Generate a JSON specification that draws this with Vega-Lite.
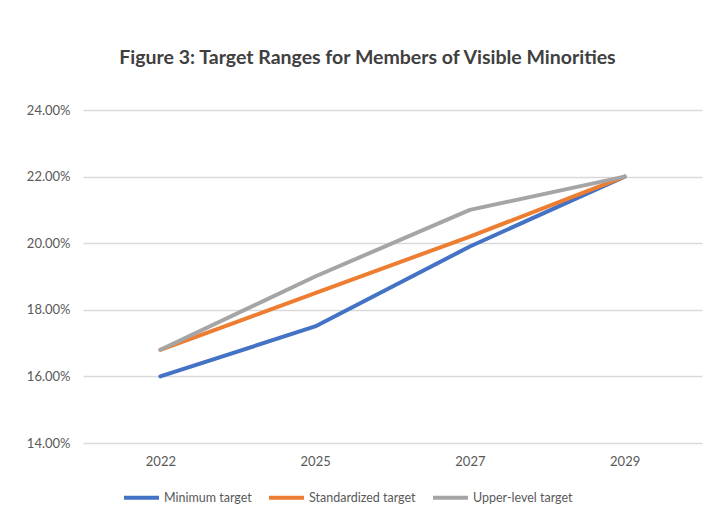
{
  "$schema": "https://vega.github.io/schema/vega-lite/v6.json",
  "autosize": "none",
  "width": 619,
  "height": 333,
  "padding": {"left": 83, "top": 110, "right": 26, "bottom": 84},
  "background": "white",
  "title": {
    "text": "Figure 3: Target Ranges for Members of Visible Minorities",
    "font": "Lato",
    "fontSize": 19.5,
    "fontWeight": "bold",
    "color": "#404040",
    "anchor": "middle",
    "dx": -25,
    "offset": 36
  },
  "data": {
    "values": [
      {"year": "2022", "series": "Minimum target", "value": 0.160},
      {"year": "2025", "series": "Minimum target", "value": 0.175},
      {"year": "2027", "series": "Minimum target", "value": 0.199},
      {"year": "2029", "series": "Minimum target", "value": 0.220},
      {"year": "2022", "series": "Standardized target", "value": 0.168},
      {"year": "2025", "series": "Standardized target", "value": 0.185},
      {"year": "2027", "series": "Standardized target", "value": 0.202},
      {"year": "2029", "series": "Standardized target", "value": 0.220},
      {"year": "2022", "series": "Upper-level target", "value": 0.168},
      {"year": "2025", "series": "Upper-level target", "value": 0.190},
      {"year": "2027", "series": "Upper-level target", "value": 0.210},
      {"year": "2029", "series": "Upper-level target", "value": 0.220}
    ]
  },
  "mark": {"type": "line", "strokeWidth": 4, "strokeCap": "round", "strokeJoin": "round"},
  "encoding": {
    "x": {
      "field": "year",
      "type": "ordinal",
      "scale": {"type": "point", "padding": 0.5},
      "axis": {
        "title": null,
        "labelAngle": 0,
        "ticks": false,
        "domain": false,
        "grid": false,
        "labelPadding": 12,
        "labelFont": "Lato",
        "labelFontSize": 13,
        "labelColor": "#595959"
      }
    },
    "y": {
      "field": "value",
      "type": "quantitative",
      "scale": {"domain": [0.14, 0.24], "nice": false, "zero": false},
      "axis": {
        "title": null,
        "format": ".2%",
        "values": [0.14, 0.16, 0.18, 0.20, 0.22, 0.24],
        "ticks": false,
        "domain": false,
        "grid": true,
        "gridColor": "#D9D9D9",
        "gridWidth": 1.3,
        "labelPadding": 13,
        "labelFont": "Lato",
        "labelFontSize": 13,
        "labelColor": "#595959"
      }
    },
    "color": {
      "field": "series",
      "type": "nominal",
      "scale": {
        "domain": ["Minimum target", "Standardized target", "Upper-level target"],
        "range": ["#4472C4", "#ED7D31", "#A5A5A5"]
      },
      "legend": {
        "title": null,
        "orient": "none",
        "direction": "horizontal",
        "legendX": 39,
        "legendY": 368,
        "symbolType": "stroke",
        "symbolSize": 1225,
        "symbolStrokeWidth": 4,
        "labelFont": "Lato",
        "labelFontSize": 12.5,
        "labelColor": "#595959",
        "labelOffset": 3,
        "columnPadding": 9
      }
    }
  },
  "config": {
    "view": {"stroke": null}
  }
}
